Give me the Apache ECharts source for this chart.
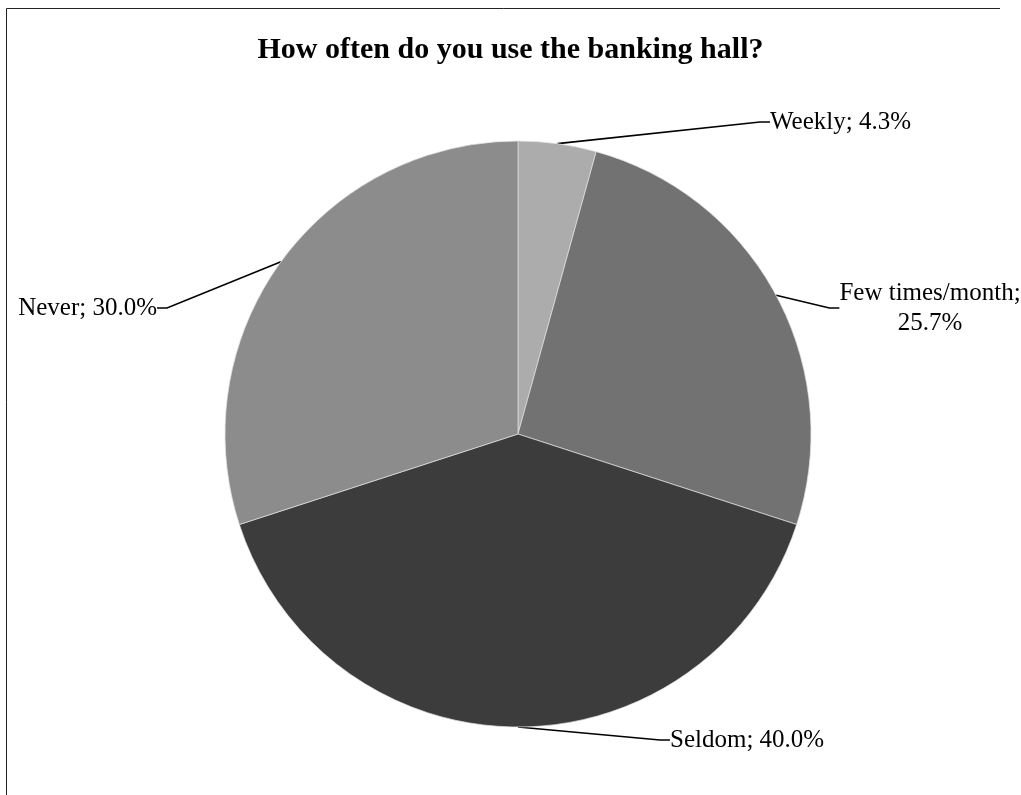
<!DOCTYPE html>
<html>
<head>
<meta charset="utf-8">
<style>
  html, body { margin: 0; padding: 0; background: #ffffff; }
  #chart { width: 1021px; height: 795px; }
</style>
<script src="https://cdn.jsdelivr.net/npm/echarts@6/dist/echarts.min.js"></script>
</head>
<body>
<div id="chart"></div>
<script>
// Survey answers and their shares (percent)
var categories = ['Weekly', 'Few times/month', 'Seldom', 'Never'];
var shares = [4.3, 25.7, 40.0, 30.0];
var sliceColors = ['#acacac', '#727272', '#3c3c3c', '#8c8c8c'];

// Where each label block sits on the page, keyed by category
var spotFor = {
  'Weekly': { x: 770, y: 122, align: 'left' },
  'Few times/month': { x: 930, y: 308, align: 'center' },
  'Seldom': { x: 670, y: 740, align: 'left' },
  'Never': { x: 157, y: 308, align: 'right' }
};

var chart = echarts.init(document.getElementById('chart'), null, { renderer: 'canvas' });

var pieData = categories.map(function (name, i) {
  return { name: name, value: shares[i], itemStyle: { color: sliceColors[i] } };
});

chart.setOption({
  animation: false,
  backgroundColor: '#ffffff',
  title: {
    text: 'How often do you use the banking hall?',
    left: 'center',
    top: 30,
    textStyle: {
      fontFamily: 'Liberation Serif',
      fontWeight: 'bold',
      fontSize: 30,
      color: '#000000'
    }
  },
  graphic: [{
    type: 'polyline',
    shape: { points: [[6.5, 800], [6.5, 8.5], [1000, 8.5]] },
    style: { stroke: '#222222', lineWidth: 1, fill: null },
    silent: true
  }],
  series: [{
    type: 'pie',
    center: [518, 434],
    radius: [0, 293],
    startAngle: 90,
    clockwise: true,
    data: pieData,
    itemStyle: {
      borderColor: 'rgba(225,225,225,0.7)',
      borderWidth: 1
    },
    label: {
      show: true,
      position: 'outside',
      fontFamily: 'Liberation Serif',
      fontSize: 25,
      lineHeight: 30,
      color: '#000000',
      formatter: function (p) {
        var txt = p.value.toFixed(1) + '%';
        if (p.name === 'Few times/month') {
          return p.name + ';\n' + txt;
        }
        return p.name + '; ' + txt;
      }
    },
    labelLine: {
      show: true,
      length: 20,
      length2: 10,
      lineStyle: { color: '#000000', width: 1.6 }
    },
    labelLayout: function (params) {
      var spot = spotFor[categories[params.dataIndex]];
      return {
        x: spot.x,
        y: spot.y,
        align: spot.align,
        verticalAlign: 'middle'
      };
    }
  }]
});
</script>
</body>
</html>
